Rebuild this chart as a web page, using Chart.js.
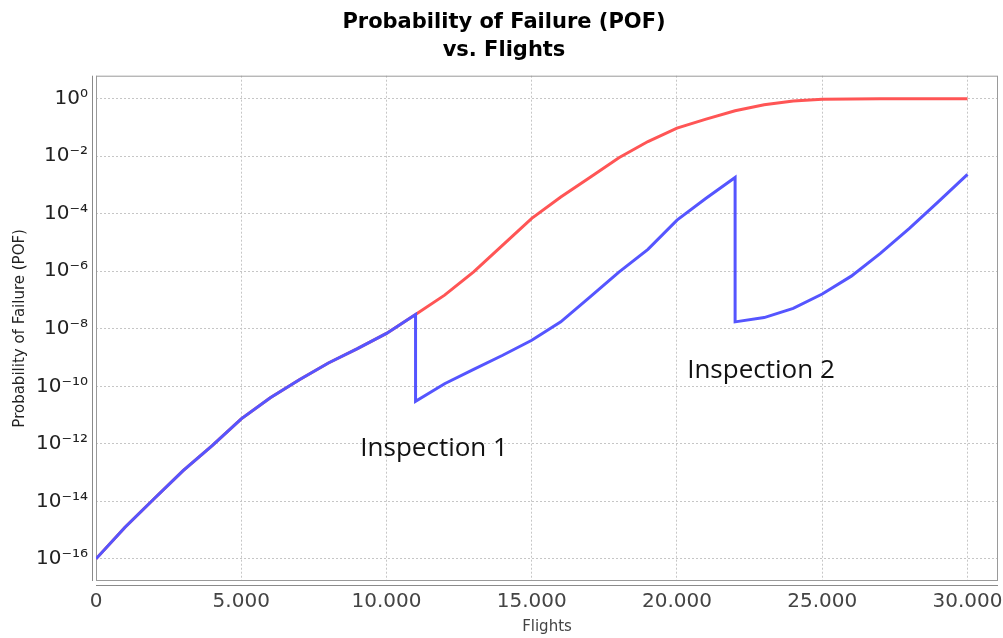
<!DOCTYPE html>
<html>
<head>
<meta charset="utf-8">
<script src="https://cdn.jsdelivr.net/npm/chart.js@4"></script>
<style>
  html, body { margin: 0; padding: 0; background: #ffffff; }
  #wrap { width: 1003px; height: 638px; }
</style>
</head>
<body>
<div id="wrap"><canvas id="pofChart" width="1003" height="638"></canvas></div>
<script>
// Flight counts (x) and log10 of the probability of failure (y)
const flights = [0, 1000, 2000, 3000, 4000, 5000, 6000, 7000, 8000, 9000, 10000,
  11000, 12000, 13000, 14000, 15000, 16000, 17000, 18000, 19000, 20000,
  21000, 22000, 23000, 24000, 25000, 26000, 27000, 28000, 29000, 30000];

// POF without any inspection
const logPofNoInspection = [-16.0, -14.90, -13.91, -12.93, -12.06, -11.13, -10.40, -9.77, -9.19, -8.69, -8.16,
  -7.50, -6.83, -6.02, -5.09, -4.16, -3.42, -2.74, -2.05, -1.49, -1.02,
  -0.71, -0.42, -0.21, -0.08, -0.02, -0.01, 0, 0, 0, 0];

// POF with inspections at 11.000 and 22.000 flights (each inspection appears twice: before / after)
const inspectedFlights = [0, 1000, 2000, 3000, 4000, 5000, 6000, 7000, 8000, 9000, 10000,
  11000, 11000, 12000, 13000, 14000, 15000, 16000, 17000, 18000, 19000, 20000, 21000,
  22000, 22000, 23000, 24000, 25000, 26000, 27000, 28000, 29000, 30000];
const logPofInspected = [-16.0, -14.90, -13.91, -12.93, -12.06, -11.13, -10.40, -9.77, -9.19, -8.69, -8.16,
  -7.50, -10.52, -9.91, -9.41, -8.92, -8.40, -7.76, -6.90, -6.03, -5.24, -4.22, -3.46,
  -2.74, -7.76, -7.61, -7.29, -6.79, -6.17, -5.38, -4.51, -3.58, -2.63];

// Axis ticks
const xTickValues = [0, 5000, 10000, 15000, 20000, 25000, 30000];
const xTickLabels = ['0', '5.000', '10.000', '15.000', '20.000', '25.000', '30.000'];
const yTickExponents = [-16, -14, -12, -10, -8, -6, -4, -2, 0];
const yTickLabels = ['10⁻¹⁶', '10⁻¹⁴', '10⁻¹²', '10⁻¹⁰', '10⁻⁸', '10⁻⁶', '10⁻⁴', '10⁻²', '10⁰'];

// Text notes placed in data coordinates
const noteLabels = ['Inspection 1', 'Inspection 2'];
const noteFlights = [11640, 22890];
const noteLogPof = [-12.16, -9.44];

const toPoints = (xs, logs) => xs.map((x, i) => ({ x: x, y: Math.pow(10, logs[i]) }));

// Gray plot frame plus axis lines set slightly apart from it
const plotFrame = {
  id: 'plotFrame',
  beforeDatasetsDraw(chart) {
    const { ctx, chartArea: a } = chart;
    ctx.save();
    ctx.lineWidth = 1;
    ctx.strokeStyle = '#9a9a9a';
    ctx.strokeRect(a.left + 0.5, a.top + 0.5, a.right - a.left - 1, a.bottom - a.top - 1);
    ctx.strokeStyle = '#8a8a8a';
    ctx.beginPath();
    ctx.moveTo(a.left - 3.5, a.top);
    ctx.lineTo(a.left - 3.5, a.bottom);
    ctx.moveTo(a.left, a.bottom + 4.5);
    ctx.lineTo(a.right, a.bottom + 4.5);
    ctx.stroke();
    ctx.restore();
  }
};

const inspectionNotes = {
  id: 'inspectionNotes',
  afterDatasetsDraw(chart) {
    const { ctx, scales: { x, y } } = chart;
    ctx.save();
    ctx.font = '26px "Open Sans"';
    ctx.fillStyle = '#111111';
    ctx.textAlign = 'center';
    ctx.textBaseline = 'middle';
    noteLabels.forEach((t, i) => {
      ctx.fillText(t, x.getPixelForValue(noteFlights[i]), y.getPixelForValue(Math.pow(10, noteLogPof[i])));
    });
    ctx.restore();
  }
};

new Chart(document.getElementById('pofChart'), {
  type: 'line',
  data: {
    datasets: [
      {
        label: 'With inspections',
        data: toPoints(inspectedFlights, logPofInspected),
        borderColor: '#5555ff',
        borderWidth: 3,
        pointRadius: 0,
        tension: 0,
        fill: false
      },
      {
        label: 'No inspection',
        data: toPoints(flights, logPofNoInspection),
        borderColor: '#ff5555',
        borderWidth: 3,
        pointRadius: 0,
        tension: 0,
        fill: false
      }
    ]
  },
  options: {
    responsive: false,
    animation: false,
    devicePixelRatio: 1,
    layout: { padding: { left: 10, right: 5, top: 0, bottom: 0 } },
    plugins: {
      legend: { display: false },
      tooltip: { enabled: false },
      title: {
        display: true,
        text: ['Probability of Failure (POF)', 'vs. Flights'],
        color: '#000000',
        font: { family: 'DejaVu Sans', size: 21, weight: 'bold', lineHeight: 1.35 },
        padding: { top: 8, bottom: 11 }
      }
    },
    scales: {
      x: {
        type: 'linear',
        min: 0,
        max: 31050,
        afterBuildTicks: s => { s.ticks = xTickValues.map(v => ({ value: v })); },
        afterFit: s => { s.height = 57; s.paddingLeft = 0; s.paddingRight = 0; },
        ticks: {
          autoSkip: false,
          maxRotation: 0,
          padding: 9,
          color: '#444444',
          font: { family: 'DejaVu Sans', size: 20 },
          callback: (v, i) => xTickLabels[i]
        },
        grid: { color: '#c6c6c6', lineWidth: 1, drawTicks: false },
        border: { display: false, dash: [2, 2] },
        title: {
          display: true,
          text: 'Flights',
          color: '#444444',
          font: { family: 'DejaVu Sans', size: 15, lineHeight: 1.2 },
          padding: { top: 2, bottom: 2 }
        }
      },
      y: {
        type: 'logarithmic',
        min: Math.pow(10, -16.77),
        max: Math.pow(10, 0.80),
        afterBuildTicks: s => { s.ticks = yTickExponents.map(e => ({ value: Math.pow(10, e) })); },
        afterFit: s => { s.width = 86; },
        ticks: {
          autoSkip: false,
          padding: 8,
          color: '#222222',
          font: { family: 'DejaVu Sans', size: 20 },
          callback: (v, i) => yTickLabels[i]
        },
        grid: { color: '#c6c6c6', lineWidth: 1, drawTicks: false },
        border: { display: false, dash: [2, 2] },
        title: {
          display: true,
          text: 'Probability of Failure (POF)',
          color: '#222222',
          font: { family: 'DejaVu Sans', size: 15, lineHeight: 1.2 },
          padding: { top: 1, bottom: 0 }
        }
      }
    }
  },
  plugins: [plotFrame, inspectionNotes]
});
</script>
</body>
</html>
